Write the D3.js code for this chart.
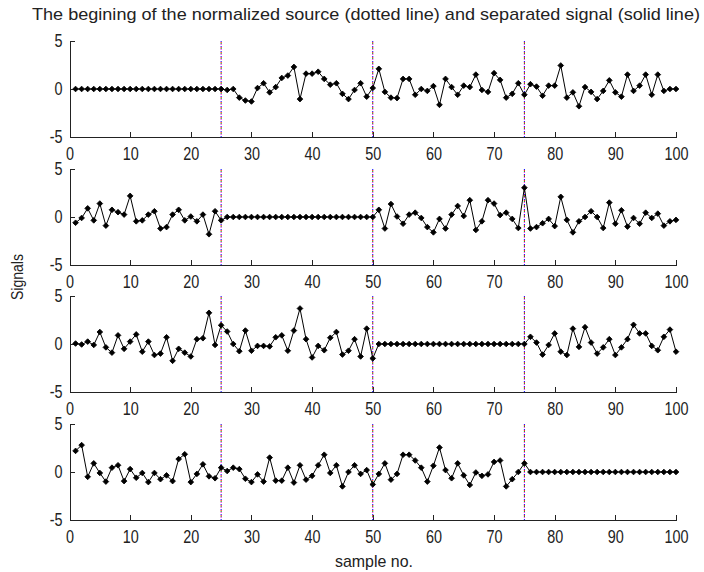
<!DOCTYPE html>
<html>
<head>
<meta charset="utf-8">
<script src="https://cdn.jsdelivr.net/npm/d3@7"></script>
<style>
  body { margin: 0; background: #fff; }
  svg { font-family: 'Liberation Sans', Arial, sans-serif; }
  .tick text { font-size: 18px; fill: #222; }
  .axis path, .axis line { stroke: #222; shape-rendering: crispEdges; }
</style>
</head>
<body>
<div id="chart"></div>
<script>
// separated signals, samples 1..100
let sig1 = [0,0,0,0,0, 0,0,0,0,0, 0,0,0,0,0, 0,0,0,0,0, 0,0,0,0,0,
    -0.1,0,-0.9,-1.2,-1.3, 0.1,0.6,-0.35,0.2,1.15, 1.4,2.3,-1.05,1.6,1.6, 1.8,1.05,0.45,0.6,-0.5, -1.05,-0.1,0.6,-0.8,0.1,
    2.1,-0.3,-0.9,-0.95,1.05, 1.05,-0.6,0,-0.2,0.3, -1.65,1.05,0.2,-0.6,0.35, 0.2,1.5,-0.1,-0.3,1.65, 0.95,-0.9,-0.5,0.6,-0.6,
    0.5,0.25,-0.7,0.35,0.35, 2.45,-0.9,-0.35,-1.8,0.2, -0.3,-1.05,-0.2,0.9,-0.35, -0.8,1.5,-0.2,0.35,1.5, -0.6,1.5,-0.2,0,0];
let sig2 = [-0.6,-0.1,0.9,-0.35,1.4, -0.9,0.75,0.5,0.25,2.2, -0.45,-0.35,0.25,0.6,-1.2, -1.05,0.25,0.75,-0.35,0.05, -0.45,0.25,-1.8,0.6,-0.35,
    0,0,0,0,0, 0,0,0,0,0, 0,0,0,0,0, 0,0,0,0,0, 0,0,0,0,0,
    0.75,-1.2,1.35,0.05,-0.7, 0.25,0.45,-0.1,-1.05,-1.6, -0.2,-1.2,0.25,1.15,0.1, 1.75,-1.35,-0.45,1.75,1.4, 0.2,0.45,-0.2,-1.15,3.05,
    -1.2,-1.05,-0.65,-0.2,-0.95, 2.1,-0.3,-1.6,-0.45,0, 0.6,0,-1.15,1.5,-0.7, 0.7,-1.0,-0.1,-0.7,0.45, -0.1,0.35,-0.9,-0.45,-0.3];
let sig3 = [0.05,-0.05,0.25,-0.1,1.25, -0.35,-0.9,0.9,-0.5,0.25, 1.0,-0.8,0.25,-1.15,-1.0, 0.7,-1.75,-0.5,-0.9,-1.3, 0.5,0.6,3.25,-0.1,1.95,
    1.3,0,-0.75,1.4,-0.7, -0.2,-0.2,-0.25,0.7,0.9, -0.7,1.4,3.7,0.5,-1.4, -0.2,-0.65,0.65,1.25,-1.1, -0.7,0.5,-1.3,1.6,-1.5,
    0,0,0,0,0, 0,0,0,0,0, 0,0,0,0,0, 0,0,0,0,0, 0,0,0,0,0,
    0.75,0.15,-1.1,-0.1,1.1, -0.8,-1.15,1.6,-0.3,1.75, 0.15,-1.0,-0.35,0.5,-1.15, -0.35,0.5,2.0,1.1,1.1, -0.2,-0.65,0.75,1.5,-0.8];
let sig4 = [2.2,2.8,-0.5,0.9,-0.1, -1.0,0.45,0.7,-0.95,0.3, -0.6,-0.1,-1.05,-0.1,-0.75, -0.35,-0.95,1.35,1.85,-1.05, -0.2,0.8,-0.45,-0.65,0.45,
    0.1,0.45,0.3,-0.7,-1.05, -0.25,-1.0,1.5,-0.9,-0.9, 0.45,-1.1,0.7,-0.8,-0.4, 0.7,1.8,-0.1,0.7,-1.5, 0,0.7,-0.2,0.2,-1.3,
    -0.2,0.9,-0.8,-0.2,1.8, 1.8,1.2,0.45,-1.0,0.65, 2.55,0.2,-0.65,0.9,-0.35, -1.35,-0.05,-0.4,-0.25,1.05, 1.2,-1.5,-0.75,0,0.9,
    0,0,0,0,0, 0,0,0,0,0, 0,0,0,0,0, 0,0,0,0,0, 0,0,0,0,0];

let signals = [sig1, sig2, sig3, sig4];
let boundaries = [25, 50, 75];
let xTicks = [0, 10, 20, 30, 40, 50, 60, 70, 80, 90, 100];
let yTicks = [-5, 0, 5];
let dotColors = ['#0000ff', '#ff0000', '#00a000', '#ff00ff'];

let titleText = 'The begining of the normalized source (dotted line) and separated signal (solid line)';
let yLabel = 'Signals';
let xLabel = 'sample no.';

let width = 704, height = 572;
let panelTops = [41, 169, 296, 424];
let panelH = 96;
let squeeze = 0.8; // the original font is narrow

let svg = d3.select('#chart').append('svg')
    .attr('width', width)
    .attr('height', height);

let xScale = d3.scaleLinear().domain([0, 100]).range([69.5, 676]);

signals.forEach((sig, p) => {
    let yScale = d3.scaleLinear().domain([-5, 5]).range([panelTops[p] + panelH, panelTops[p]]);
    let g = svg.append('g').attr('class', 'panel');

    // axes, ticks point inward like matlab
    let xAx = g.append('g').attr('class', 'axis')
        .attr('transform', 'translate(0,' + yScale(-5) + ')')
        .call(d3.axisBottom(xScale).tickValues(xTicks).tickSizeInner(-5).tickSizeOuter(0).tickPadding(10));
    xAx.selectAll('.tick text').attr('transform', 'scale(' + squeeze + ',1)');

    let yAx = g.append('g').attr('class', 'axis')
        .attr('transform', 'translate(' + xScale(0) + ',0)')
        .call(d3.axisLeft(yScale).tickValues(yTicks).tickSizeInner(-5).tickSizeOuter(0).tickPadding(7)
            .tickFormat(d => String(d)));
    yAx.selectAll('.tick text')
        .attr('x', -7 / squeeze)
        .attr('transform', 'scale(' + squeeze + ',1)');
    g.selectAll('.tick text').attr('font-family', null).attr('font-size', null);

    // dotted boundary lines, several colours overlapping
    boundaries.forEach(b => {
        dotColors.forEach((c, i) => {
            g.append('line')
                .attr('x1', xScale(b)).attr('x2', xScale(b))
                .attr('y1', yScale(5)).attr('y2', yScale(-5))
                .attr('stroke', c)
                .attr('stroke-width', 1)
                .attr('stroke-dasharray', '1,4')
                .attr('stroke-dashoffset', -i);
        });
    });

    let pts = sig.map((v, i) => ({s: i + 1, v: v}));
    let line = d3.line().x(d => xScale(d.s)).y(d => yScale(d.v));
    g.append('path')
        .datum(pts)
        .attr('d', line)
        .attr('fill', 'none')
        .attr('stroke', '#000')
        .attr('stroke-width', 1);

    let diamond = d3.symbol().type(d3.symbolSquare).size(16);
    g.selectAll('path.mark').data(pts).enter().append('path')
        .attr('class', 'mark')
        .attr('d', diamond)
        .attr('transform', d => 'translate(' + xScale(d.s) + ',' + yScale(d.v) + ') rotate(45)')
        .attr('fill', '#000')
        .attr('stroke', '#000')
        .attr('stroke-width', 0.8);
});

svg.append('text')
    .attr('x', 366).attr('y', 20)
    .attr('text-anchor', 'middle')
    .attr('font-size', 17)
    .attr('fill', '#222')
    .attr('textLength', 668)
    .attr('lengthAdjust', 'spacingAndGlyphs')
    .text(titleText);

svg.append('text')
    .attr('transform', 'translate(23,277) rotate(-90)')
    .attr('text-anchor', 'middle')
    .attr('font-size', 17)
    .attr('fill', '#222')
    .attr('textLength', 46)
    .attr('lengthAdjust', 'spacingAndGlyphs')
    .text(yLabel);

svg.append('text')
    .attr('x', 374).attr('y', 567)
    .attr('text-anchor', 'middle')
    .attr('font-size', 17)
    .attr('fill', '#222')
    .attr('textLength', 78)
    .attr('lengthAdjust', 'spacingAndGlyphs')
    .text(xLabel);
</script>
</body>
</html>
